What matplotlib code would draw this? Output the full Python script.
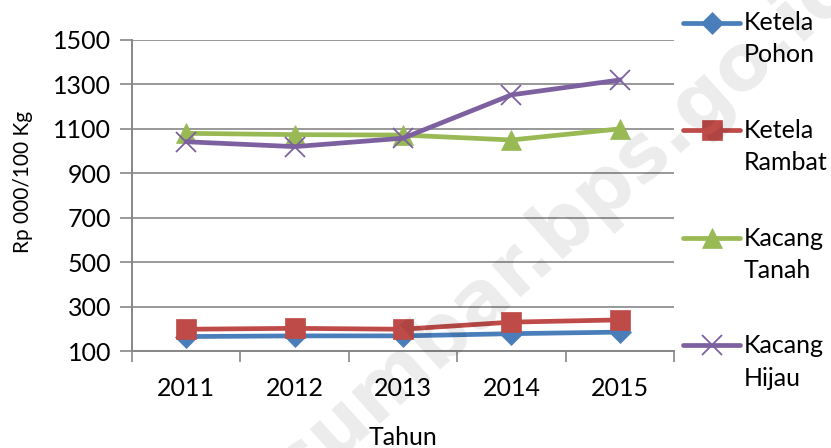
import matplotlib
matplotlib.use("Agg")
import matplotlib.pyplot as plt
from matplotlib.lines import Line2D

years = ["2011", "2012", "2013", "2014", "2015"]
ketela_pohon = [165, 168, 168, 178, 185]
ketela_rambat = [198, 202, 198, 230, 240]
kacang_tanah = [1080, 1074, 1072, 1050, 1100]
kacang_hijau = [1042, 1020, 1058, 1253, 1320]

series_names = [("Ketela", "Pohon"), ("Ketela", "Rambat"), ("Kacang", "Tanah"), ("Kacang", "Hijau")]
series_vals = [ketela_pohon, ketela_rambat, kacang_tanah, kacang_hijau]
colors = ["#4A7EBB", "#BE4B48", "#98B954", "#7D60A0"]
markers = ["D", "s", "^", "x"]
msizes = [11.5, 14, 15, 14]

plt.rcParams['font.family'] = ['Lato', 'DejaVu Sans']
W, H = 831, 448
fig = plt.figure(figsize=(W / 100, H / 100), dpi=100)
ax = fig.add_axes([132 / W, (H - 351) / H, 542 / W, 311 / H])

x = list(range(len(years)))
for vals, c, m, ms in zip(series_vals, colors, markers, msizes):
    ax.plot(x, vals, color=c, lw=3.4, marker=m, markersize=ms,
            markeredgewidth=1.3 if m == "x" else 0.5, markeredgecolor=c,
            markerfacecolor=c, solid_joinstyle='round', zorder=3)

ax.set_xlim(-0.5, 4.5)
ax.set_ylim(100, 1500)
ax.set_yticks(range(100, 1501, 200))
ax.set_xticks(x)
ax.set_xticklabels(years)
ax.set_xticks([i - 0.5 for i in range(6)], minor=True)
ax.tick_params(axis='x', which='major', length=0, pad=19, labelsize=18)
ax.tick_params(axis='x', which='minor', length=8, width=1.2, color='#878787', direction='out')
ax.tick_params(axis='y', length=9, width=1.2, color='#878787', labelsize=18, pad=6)
ax.grid(axis='y', color='#878787', lw=1.2, zorder=0)
for s in ['top', 'right']:
    ax.spines[s].set_visible(False)
ax.spines['left'].set_color('#878787')
ax.spines['left'].set_linewidth(1.4)
ax.spines['bottom'].set_color('#878787')
ax.spines['bottom'].set_linewidth(1.4)
ax.set_axisbelow(True)

fig.text(403 / W, 1 - 437 / H, "Tahun", ha='center', va='center', fontsize=18)
fig.text(23 / W, 1 - 182 / H, "Rp 000/100 Kg", ha='center', va='center', rotation=90, fontsize=15)

# legend (manual, handle aligned with first text line)
ys1 = [23, 130, 238, 345]
ys2 = [55, 162, 270, 378]
for (n1, n2), c, m, ms, y1, y2 in zip(series_names, colors, markers, msizes, ys1, ys2):
    fy = 1 - y1 / H
    fig.add_artist(Line2D([683 / W, 740 / W], [fy, fy], transform=fig.transFigure,
                          color=c, lw=3.4, solid_capstyle='round'))
    fig.add_artist(Line2D([711.5 / W], [fy], transform=fig.transFigure, color=c,
                          marker=m, markersize=ms, markerfacecolor=c, markeredgecolor=c,
                          markeredgewidth=1.3 if m == "x" else 0.5, lw=0))
    fig.text(744 / W, fy, n1, ha='left', va='center', fontsize=18)
    fig.text(744 / W, 1 - y2 / H, n2, ha='left', va='center', fontsize=18)

# watermark
fig.text(565 / W, 1 - 224 / H, "sumbar.bps.go.id", ha='center', va='center',
         rotation=42, rotation_mode='anchor', fontsize=56, fontweight='bold',
         family='DejaVu Sans', color='black', alpha=0.08, zorder=10)

fig.savefig("out.png", dpi=100)
